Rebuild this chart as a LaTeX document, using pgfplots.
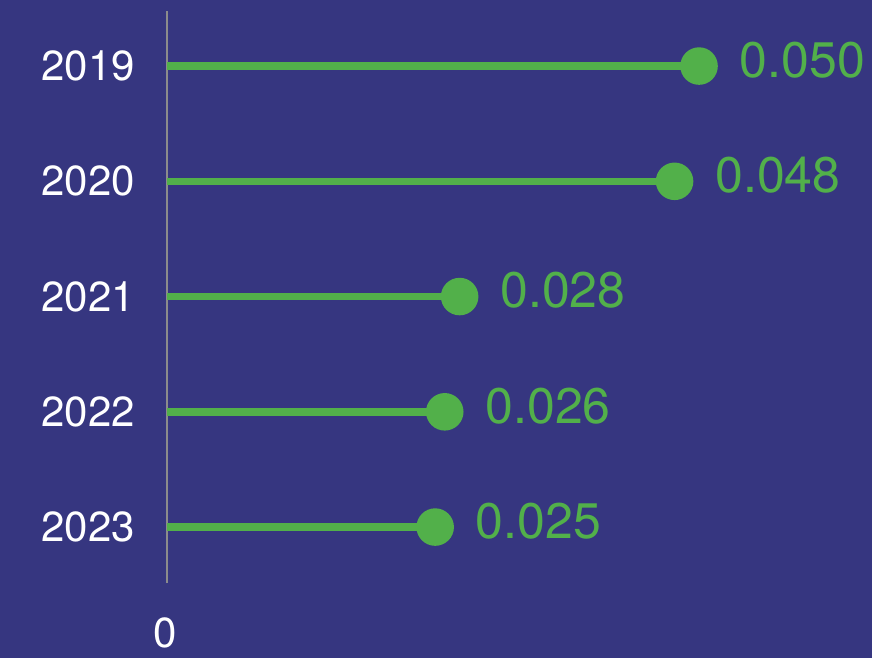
\documentclass[border=0pt]{standalone}
\usepackage{pgfplots}
\pgfplotsset{compat=1.18}
\usepackage{fontspec}
\setmainfont{TeX Gyre Heros}
\definecolor{bg}{RGB}{54,54,128}
\definecolor{lg}{RGB}{82,176,74}
\definecolor{ax}{RGB}{140,140,140}
\begin{document}
\begin{tikzpicture}[x=1pt,y=1pt]
\fill[bg] (0,0) rectangle (872,658);
\begin{axis}[
  at={(157,65)}, anchor=south west,
  scale only axis, width=532pt, height=572pt,
  xmin=0, xmax=0.05, ymin=-0.486, ymax=4.477,
  clip=false,
  scaled x ticks=false,
  axis y line*=left, axis x line*=bottom,
  x axis line style={draw=none},
  y axis line style={draw=ax, line width=2.5pt},
  major tick length=0pt,
  xtick={0}, xticklabels={0},
  ytick={0,1,2,3,4}, yticklabels={2023,2022,2021,2020,2019},
  /pgf/number format/assume math mode=true,
  yticklabel style={font=\fontsize{42}{50}\selectfont, text=white, inner sep=0pt, xshift=-32pt},
  xticklabel style={font=\fontsize{42}{50}\selectfont, text=white, inner sep=0pt, yshift=-34pt, xshift=-2pt},
]
\addplot[xcomb, draw=lg, line width=7.5pt, mark=*, mark size=15pt,
  mark options={fill=lg, draw=none},
  point meta=x,
  nodes near coords,
  nodes near coords style={anchor=west, inner sep=0pt, xshift=37pt, yshift=6pt,
    text=lg, font=\fontsize{50}{60}\selectfont,
    /pgf/number format/.cd, fixed, zerofill, precision=3, assume math mode=true},
] coordinates {
  (0.0500,4) (0.0477,3) (0.0275,2) (0.0261,1) (0.0252,0)
};
\end{axis}
\pgfresetboundingbox
\useasboundingbox (0,0) rectangle (872,658);
\end{tikzpicture}
\end{document}
